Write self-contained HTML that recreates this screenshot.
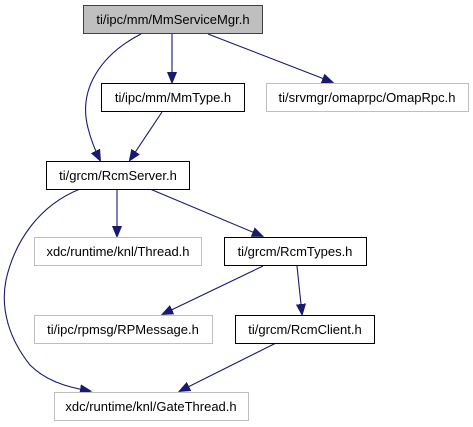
<!DOCTYPE html>
<html><head><meta charset="utf-8"><style>html,body{margin:0;padding:0;background:#fff}svg{display:block}</style></head>
<body>
<svg width="473" height="427" viewBox="0 0 473 427" xmlns="http://www.w3.org/2000/svg" font-family="Liberation Sans, sans-serif" font-size="13">
<defs><marker id="a" markerWidth="12" markerHeight="12" refX="10" refY="6" orient="auto" markerUnits="userSpaceOnUse"><path d="M0,1.5 L11,6 L0,10.5 Z" fill="#191970" stroke="#191970"/></marker></defs>
<g fill="none" stroke="#191970" stroke-width="1.1">
<path d="M141,34 C100,55 78,90 88,128 C91,140 95,150 100,160" marker-end="url(#a)"/>
<path d="M172,34 L172,82" marker-end="url(#a)"/>
<path d="M208,34 L332,82" marker-end="url(#a)"/>
<path d="M162,112 L130,160" marker-end="url(#a)"/>
<path d="M80,189 C40,205 15,240 6,280 C0,310 10,340 30,365 C45,380 65,387 90,391" marker-end="url(#a)"/>
<path d="M117,189 L117,236" marker-end="url(#a)"/>
<path d="M150,189 L262,236" marker-end="url(#a)"/>
<path d="M263,266 L163,314" marker-end="url(#a)"/>
<path d="M297,266 L302,314" marker-end="url(#a)"/>
<path d="M276,343 L180,391" marker-end="url(#a)"/>
</g>
<g stroke-width="1">
<rect x="83.5" y="5.5" width="179" height="28" fill="#bfbfbf" stroke="#404040"/>
<rect x="101.5" y="83.5" width="143" height="28" fill="#fff" stroke="#000"/>
<rect x="266.5" y="83.5" width="202" height="28" fill="#fff" stroke="#bfbfbf"/>
<rect x="46.5" y="161.5" width="143" height="28" fill="#fff" stroke="#000"/>
<rect x="34.5" y="237.5" width="167" height="28" fill="#fff" stroke="#bfbfbf"/>
<rect x="224.5" y="237.5" width="142" height="28" fill="#fff" stroke="#000"/>
<rect x="34.5" y="315.5" width="178" height="28" fill="#fff" stroke="#bfbfbf"/>
<rect x="235.5" y="315.5" width="139" height="28" fill="#fff" stroke="#000"/>
<rect x="54.5" y="392.5" width="194" height="28" fill="#fff" stroke="#bfbfbf"/>
</g>
<g text-anchor="middle" fill="#000">
<text x="173" y="24">ti/ipc/mm/MmServiceMgr.h</text>
<text x="173" y="102">ti/ipc/mm/MmType.h</text>
<text x="367" y="102">ti/srvmgr/omaprpc/OmapRpc.h</text>
<text x="118" y="180">ti/grcm/RcmServer.h</text>
<text x="118" y="256">xdc/runtime/knl/Thread.h</text>
<text x="295" y="256">ti/grcm/RcmTypes.h</text>
<text x="123" y="334">ti/ipc/rpmsg/RPMessage.h</text>
<text x="305" y="334">ti/grcm/RcmClient.h</text>
<text x="151" y="411">xdc/runtime/knl/GateThread.h</text>
</g>
</svg>
</body></html>
